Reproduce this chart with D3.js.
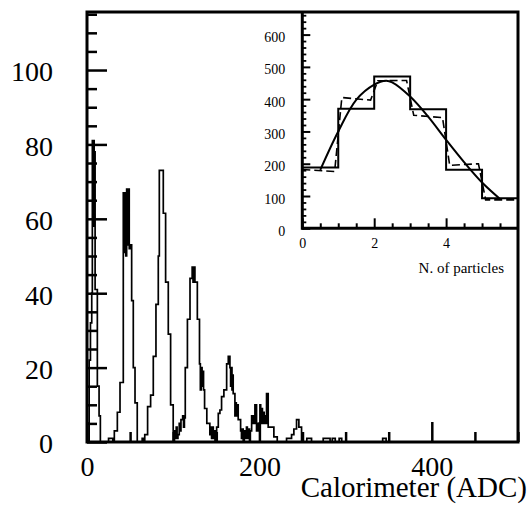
<!DOCTYPE html>
<html><head><meta charset="utf-8">
<script src="https://cdn.jsdelivr.net/npm/d3@7"></script>
<style>
body{margin:0;background:#fff;}
svg text{font-family:"Liberation Serif","Times New Roman",serif;fill:#000;}
</style>
</head><body>
<svg id="c" width="529" height="509"></svg>
<script>
// ---- Main histogram (Calorimeter ADC) : bin left edges and counts ----
const adcEdges = [0,2.5,4,5.5,6.2,6.9,7.6,8.3,9.0,9.4,12,14,15.5,25,30,31.7,35.2,38.3,
  42.1,43,44,45,46,47,48,49,49.9,51.8,53.7,55.7,58.3,64,66,67,
  70.3,73.8,76.9,80,82.7,83.9,88.5,91.2,94.3,97,100,101.5,102.5,103.5,104.5,105.5,107,108,109,111,112,113,
  114,116.5,119.5,122,123,124,125.2,128,130.5,131.5,132.5,133.5,134.5,135.2,136.4,139,142.5,143.5,144.5,145.5,146.5,147.5,148.5,
  150.4,152.3,154.2,156.1,158.8,162,163.9,165.8,166.6,167.4,168.2,169,169.6,171.6,172.4,173.2,174,175.4,178.2,179.2,180.2,181.2,182.5,183.5,185,186,187.5,188.5,189.5,
  191,193,194.8,196.7,198.6,200.6,201.5,202.5,203.5,204.5,205.5,206.5,207.5,208.3,210.2,216.8,220.7,
  231.5,237.3,240,243.1,245.8,248.9,255,260.5,274,282,284.5,288,292.5,295.5,343,347];
const adcCounts = [0,22,32,40,81,58,81,62,78,41,15,7,0,1,0,3,8,16,
  67,51,67,50,68,53,68,52,53,38,20,10.5,0,1,0,2,
  9.5,12.6,23,37,50,73,61.5,43,29,10,0,3,1,4,1,2,5,3,6,7,4,6.5,
  20,33,44,47,43,47,43,33,21,14,20,15,19,14,9,5,2,4,1,4,1,3,0,
  4,7.7,8.6,12.2,14,21,23,20,15,20,14,18,13,7,10.5,7,10,6,3,1,3.5,0.5,3,1,4,1,3.5,0.5,3,
  7,5,10,3,5,10,5,9,5,8,5,7,5,13,4,1.4,0,
  1,2,3.5,6,4,0,1,0,1,0,1,0,1,0,1,0];
const adcEnd = 500;
const mainXTicks = [0, 200, 400];
const mainYTicks = [0, 20, 40, 60, 80, 100];
const xTitle = "Calorimeter (ADC)";

// ---- Inset: N. of particles ----
const insetEdges = [0, 1, 2, 3, 4, 5, 6];
const insetSolid = [188, 370, 470, 369, 181, 93];
const insetDashStart = [182, 405, 457, 350, 195, 88];
const insetDashEnd   = [176, 397, 458, 343, 200, 88];
const fitX = [0.5, 1, 1.5, 2, 2.33, 2.5, 3, 3.5, 4, 4.5, 5, 5.5];
const fitY = [181, 300, 398, 445, 457, 452, 408, 346, 274, 205, 142, 91];
const insetXTicks = [0, 2, 4];
const insetYTicks = [0, 100, 200, 300, 400, 500, 600];
const insetTitle = "N. of particles";

const svg = d3.select("#c");
const L = 87, R = 518, T = 12, B = 442;
const x = d3.scaleLinear([0, 500], [L, R]);
const y = d3.scaleLinear([0, 115.6], [B, T]);
const fmt = d3.format("d");

// histogram outline
const pts = [[adcEdges[0], 0]];
adcCounts.forEach((c, i) => {
  const x0 = adcEdges[i], x1 = i + 1 < adcEdges.length ? adcEdges[i + 1] : adcEnd;
  pts.push([x0, c], [x1, c]);
});
pts.push([adcEnd, 0]);
svg.append("path").attr("d", d3.line().x(d => x(d[0])).y(d => y(d[1]))(pts))
  .attr("fill", "none").attr("stroke", "#000").attr("stroke-width", 1.7);

// y ticks (inside)
const yMinor = d3.range(0, 116, 5).filter(v => v % 20 !== 0);
svg.append("g").attr("transform", `translate(${L},0)`)
  .call(d3.axisRight(y).tickValues(yMinor).tickSize(10).tickFormat(""))
  .call(g => g.select(".domain").remove())
  .selectAll("line").attr("stroke", "#000").attr("stroke-width", 2.5);
svg.append("g").attr("transform", `translate(${L},0)`)
  .call(d3.axisRight(y).tickValues(mainYTicks).tickSize(20).tickFormat(""))
  .call(g => g.select(".domain").remove())
  .selectAll("line").attr("stroke", "#000").attr("stroke-width", 2.5);
// y labels
svg.append("g").attr("transform", `translate(${L},0)`)
  .call(d3.axisLeft(y).tickValues(mainYTicks).tickSize(0).tickPadding(34).tickFormat(fmt))
  .call(g => g.select(".domain").remove())
  .selectAll("text").attr("font-size", 28).attr("font-family", "Liberation Serif").attr("dy", "0.39em");

// x ticks
const xMinor = d3.range(0, 501, 50).filter(v => v % 200 !== 0);
svg.append("g").attr("transform", `translate(0,${B})`)
  .call(d3.axisTop(x).tickValues(xMinor).tickSize(10).tickFormat(""))
  .call(g => g.select(".domain").remove())
  .selectAll("line").attr("stroke", "#000").attr("stroke-width", 2.5);
svg.append("g").attr("transform", `translate(0,${B})`)
  .call(d3.axisTop(x).tickValues(mainXTicks).tickSize(20).tickFormat(""))
  .call(g => g.select(".domain").remove())
  .selectAll("line").attr("stroke", "#000").attr("stroke-width", 2.5);
svg.append("g").attr("transform", `translate(0,${B})`)
  .call(d3.axisBottom(x).tickValues(mainXTicks).tickSize(0).tickPadding(14).tickFormat(fmt))
  .call(g => g.select(".domain").remove())
  .selectAll("text").attr("font-size", 28).attr("font-family", "Liberation Serif");

// frame
svg.append("rect").attr("x", L).attr("y", T).attr("width", R - L).attr("height", B - T)
  .attr("fill", "none").attr("stroke", "#000").attr("stroke-width", 3);

svg.append("text").attr("x", 527).attr("y", 497).attr("text-anchor", "end")
  .attr("font-size", 29).text(xTitle);

// ---- inset ----
const IL = 302.3, IR = R, IT = T, IB = 228.3;
const ix = d3.scaleLinear([0, 6], [IL, IR]);
const iy = d3.scaleLinear([0, 670], [IB, IT]);
const ig = svg.append("g");

// solid histogram
const ipts = [];
insetSolid.forEach((c, i) => { ipts.push([insetEdges[i], c], [insetEdges[i + 1], c]); });
ig.append("path").attr("d", d3.line().x(d => ix(d[0])).y(d => iy(d[1]))(ipts))
  .attr("fill", "none").attr("stroke", "#000").attr("stroke-width", 2);

// dashed histogram
const dpts = [];
insetDashStart.forEach((c, i) => {
  const a = i === 0 ? insetEdges[i] : insetEdges[i] + 0.1;
  const b = i === insetDashStart.length - 1 ? insetEdges[i + 1] : insetEdges[i + 1] - 0.1;
  dpts.push([a, c], [b, insetDashEnd[i]]);
});
ig.append("path").attr("d", d3.line().x(d => ix(d[0])).y(d => iy(d[1]))(dpts))
  .attr("fill", "none").attr("stroke", "#000").attr("stroke-width", 1.6).attr("stroke-dasharray", "8,4");

// fit curve
ig.append("path").attr("d", d3.line().x((d, i) => ix(fitX[i])).y(d => iy(d)).curve(d3.curveCatmullRom)(fitY))
  .attr("fill", "none").attr("stroke", "#000").attr("stroke-width", 2);

// inset y ticks
ig.append("g").attr("transform", `translate(${IL},0)`)
  .call(d3.axisRight(iy).tickValues(d3.range(0, 670, 20).filter(v => v % 100 !== 0)).tickSize(4).tickFormat(""))
  .call(g => g.select(".domain").remove())
  .selectAll("line").attr("stroke", "#000").attr("stroke-width", 1.8);
ig.append("g").attr("transform", `translate(${IL},0)`)
  .call(d3.axisRight(iy).tickValues(insetYTicks).tickSize(8).tickFormat(""))
  .call(g => g.select(".domain").remove())
  .selectAll("line").attr("stroke", "#000").attr("stroke-width", 2);
ig.append("g").attr("transform", `translate(${IL},0)`)
  .call(d3.axisLeft(iy).tickValues(insetYTicks).tickSize(0).tickPadding(17).tickFormat(fmt))
  .call(g => g.select(".domain").remove())
  .selectAll("text").attr("font-size", 14).attr("font-family", "Liberation Serif").attr("dy", "0.5em");

// inset x ticks
ig.append("g").attr("transform", `translate(0,${IB})`)
  .call(d3.axisTop(ix).tickValues(d3.range(0.5, 6, 1)).tickSize(5).tickFormat(""))
  .call(g => g.select(".domain").remove())
  .selectAll("line").attr("stroke", "#000").attr("stroke-width", 2);
ig.append("g").attr("transform", `translate(0,${IB})`)
  .call(d3.axisTop(ix).tickValues([1, 3, 5]).tickSize(5).tickFormat(""))
  .call(g => g.select(".domain").remove())
  .selectAll("line").attr("stroke", "#000").attr("stroke-width", 2);
ig.append("g").attr("transform", `translate(0,${IB})`)
  .call(d3.axisTop(ix).tickValues(insetXTicks).tickSize(10).tickFormat(""))
  .call(g => g.select(".domain").remove())
  .selectAll("line").attr("stroke", "#000").attr("stroke-width", 2);
ig.append("g").attr("transform", `translate(0,${IB})`)
  .call(d3.axisBottom(ix).tickValues(insetXTicks).tickSize(0).tickPadding(10).tickFormat(fmt))
  .call(g => g.select(".domain").remove())
  .selectAll("text").attr("font-size", 14).attr("font-family", "Liberation Serif");

// inset axis lines
ig.append("line").attr("x1", IL).attr("x2", IL).attr("y1", IT).attr("y2", IB + 1.5)
  .attr("stroke", "#000").attr("stroke-width", 3);
ig.append("line").attr("x1", IL).attr("x2", IR).attr("y1", IB).attr("y2", IB)
  .attr("stroke", "#000").attr("stroke-width", 3);

ig.append("text").attr("x", 504).attr("y", 273).attr("text-anchor", "end")
  .attr("font-size", 15).text(insetTitle);
</script>
</body></html>
